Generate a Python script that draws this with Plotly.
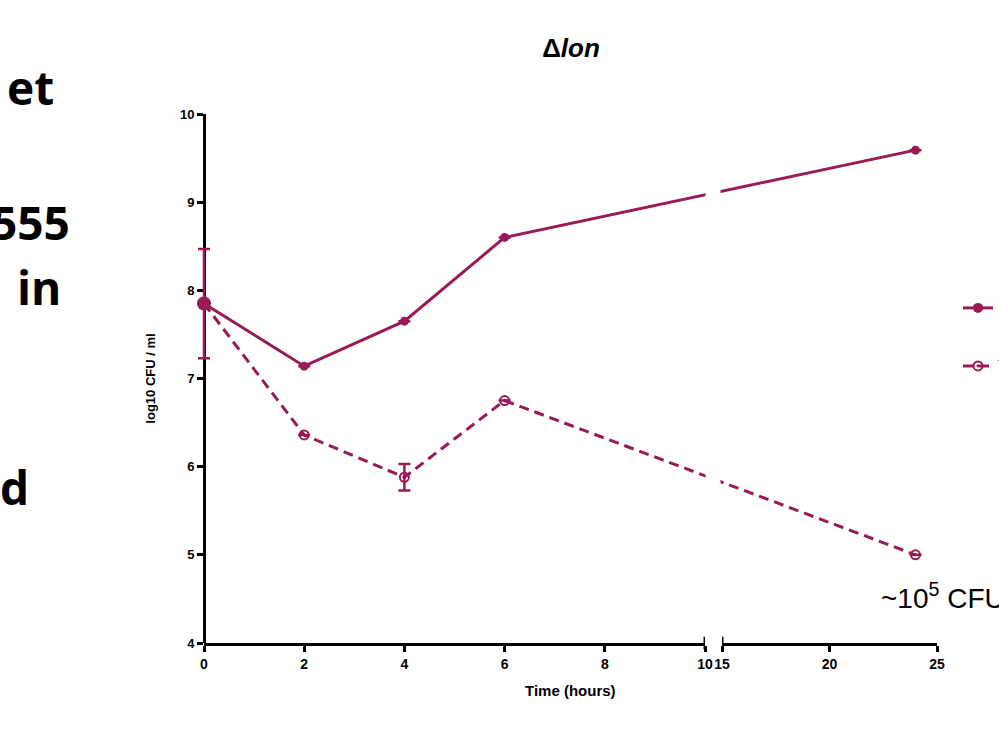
import plotly.graph_objects as go

# ---------------- data ----------------
hours = [0, 2, 4, 6, 24]
untreated = [7.85, 7.14, 7.65, 8.60, 9.59]
treated = [7.85, 6.36, 5.88, 6.75, 5.00]
untreated_err = [0.62, None, None, None, None]
treated_err = [None, None, 0.15, None, None]
seg1_ticks = [0, 2, 4, 6, 8, 10]
seg2_ticks = [15, 20, 25]
y_ticks = [4, 5, 6, 7, 8, 9, 10]
series_names = ["Untreated", "Treated"]
side_text = [("et", 56, 87), ("555", 72, 222), ("in", 63, 287), ("d", 31, 487)]

# ---------------- geometry ----------------
W, H = 999, 738
L, R, T, B = 170, 62, 114, 95          # paper margins
AX0 = 204                               # pixel of the y axis / hour 0
AX_END = W - R                          # pixel of hour 25
SEG1_END, SEG2_START = 705, 722         # pixels of the axis break
PW = W - L - R
PH = H - T - B
UNIT = (SEG1_END - AX0) / 10            # px per hour in first segment
SEG2_UNIT = (AX_END - SEG2_START) / 10  # px per hour in second segment


def brk(h):
    """broken-axis transform (in first-segment hours)"""
    if h <= 10:
        return h
    return (SEG2_START - AX0 + (h - 15) * SEG2_UNIT) / UNIT


def px_x(px):
    return (px - L) / PW


def px_y(py):
    return (H - B - py) / PH


COL = "#991A56"
FONT = "Arial, Liberation Sans, sans-serif"

xs = [brk(h) for h in hours]

fig = go.Figure()
fig.add_trace(go.Scatter(
    x=xs, y=treated, name=series_names[1], mode="lines+markers",
    line=dict(color=COL, width=3, dash="10px,6px"),
    marker=dict(symbol="circle-open-dot", size=9, color=COL, line=dict(width=2, color=COL)),
    error_y=dict(type="data", array=treated_err, color=COL, thickness=2.5, width=6, visible=True),
    cliponaxis=False, legend="legend2", showlegend=True,
))
fig.add_trace(go.Scatter(
    x=xs, y=untreated, name=series_names[0], mode="lines+markers",
    line=dict(color=COL, width=3),
    marker=dict(symbol="circle", size=[14, 9, 9, 9, 9], color=COL, opacity=1,
                line=dict(width=0)),
    error_y=dict(type="data", array=untreated_err, color=COL, thickness=2.5, width=6, visible=True),
    cliponaxis=False, legend="legend", showlegend=True,
))

axis_common = dict(showgrid=False, zeroline=False, showline=True, linecolor="black",
                   linewidth=3, ticks="outside", ticklen=6, tickwidth=2.5, tickcolor="black")
xtickfont = dict(family=FONT, size=14, color="black", weight="bold")

fig.update_layout(
    width=W, height=H,
    margin=dict(l=L, r=R, t=T, b=B, autoexpand=False),
    paper_bgcolor="white", plot_bgcolor="rgba(0,0,0,0)",
    showlegend=True,
    font=dict(family=FONT, color="black"),
    xaxis=dict(domain=[0, 1], range=[brk(0) - (AX0 - L) / UNIT, brk(25)], visible=False,
               fixedrange=True),
    xaxis2=dict(domain=[px_x(AX0), px_x(SEG1_END)], range=[0, 10], anchor="y",
                tickvals=seg1_ticks, ticktext=[str(v) for v in seg1_ticks],
                layer="below traces", tickfont=xtickfont, **axis_common),
    xaxis3=dict(domain=[px_x(SEG2_START), 1], range=[15, 25], anchor="y",
                tickvals=seg2_ticks, ticktext=[str(v) for v in seg2_ticks],
                layer="below traces", tickfont=xtickfont, **axis_common),
    yaxis=dict(domain=[0, 1], range=[4, 10], anchor="free", position=px_x(AX0),
               tickvals=y_ticks, layer="below traces",
               title=dict(text="log10 CFU / ml", standoff=20,
                          font=dict(family=FONT, size=13, color="black", weight="bold")),
               tickfont=dict(family=FONT, size=13, color="black", weight="bold"),
               **axis_common),
    title=dict(text="Δ<i>lon</i>", x=571 / W, xanchor="center", y=1 - 48 / H,
               yanchor="middle", xref="container",
               font=dict(family=FONT, size=26, color="black", weight="bold")),
    legend=dict(x=px_x(958), y=px_y(308), xanchor="left", yanchor="middle", borderwidth=0,
                bgcolor="rgba(0,0,0,0)", font=dict(family=FONT, size=16, color="black")),
    legend2=dict(x=px_x(958), y=px_y(366), xanchor="left", yanchor="middle", borderwidth=0,
                 bgcolor="rgba(0,0,0,0)", font=dict(family=FONT, size=16, color="black")),
)

# gap in the data line across the axis break
fig.add_shape(type="rect", xref="paper", yref="paper", x0=px_x(SEG1_END + 0.5),
              x1=px_x(SEG2_START - 1.5), y0=0.02, y1=1.0, fillcolor="white",
              line=dict(width=0), layer="above")
# break marks at the segment ends
for ax, v in (("x2", 10), ("x3", 15)):
    fig.add_shape(type="line", xref=ax, yref="paper", x0=v, x1=v, y0=-0.012, y1=0.012,
                  line=dict(color="black", width=3), layer="above")

# x axis title
fig.add_annotation(text="<b>Time (hours)</b>", x=px_x((AX0 + AX_END) / 2), y=px_y(690),
                   xref="paper", yref="paper", xanchor="center", yanchor="middle",
                   showarrow=False, font=dict(family=FONT, size=15, color="black"))
# note
fig.add_annotation(text="~10<sup>5</sup> CFU", x=px_x(879), y=px_y(596), xref="paper",
                   yref="paper", xanchor="left", yanchor="middle", showarrow=False,
                   font=dict(family=FONT, size=28, color="black"))
# slide text fragments on the left
for txt, xr, yc in side_text:
    fig.add_annotation(text=f"<b>{txt}</b>", x=px_x(xr), y=px_y(yc), xref="paper", yref="paper",
                       xanchor="right", yanchor="middle", showarrow=False,
                       font=dict(family="Open Sans", size=46, color="black"))

fig.write_html("out.html")
